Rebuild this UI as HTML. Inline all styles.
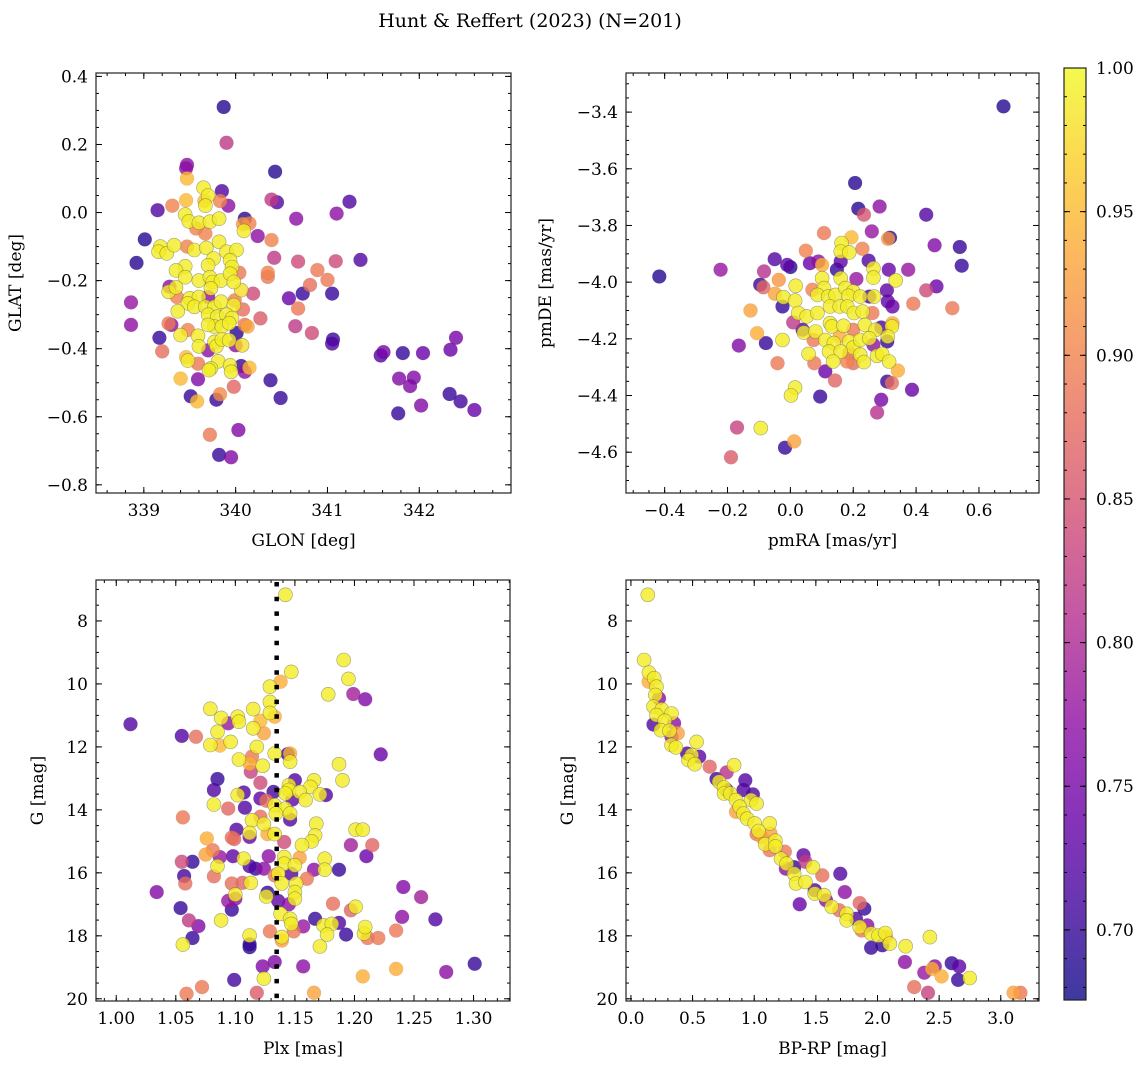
<!DOCTYPE html>
<html><head><meta charset="utf-8"><style>
html,body{margin:0;padding:0;background:#fff;}
svg{display:block;font-family:"DejaVu Serif","Liberation Serif",serif;}
</style></head><body>
<svg id="fig" width="1148" height="1068" viewBox="0 0 1148 1068" xmlns="http://www.w3.org/2000/svg">
<text x="530" y="27" font-size="19" text-anchor="middle" fill="#000">Hunt &amp; Reffert (2023) (N=201)</text>
</svg>
<script>
// ---- data: [x, y, membership probability] ----
const glonGlat=[[339.87,0.31,0.69],[339.90,0.205,0.82],[339.47,0.14,0.77],[339.46,0.13,0.77],[339.47,0.10,0.95],[340.43,0.12,0.69],[339.85,0.063,0.72],[339.65,0.073,0.99],[339.70,0.05,0.99],[339.46,0.036,0.95],[339.15,0.007,0.72],[339.31,0.02,0.90],[339.92,0.02,0.77],[339.83,0.034,0.90],[339.66,0.034,0.95],[339.67,0.02,0.99],[340.39,0.038,0.82],[340.45,0.03,0.72],[340.66,-0.018,0.77],[341.10,-0.003,0.77],[341.24,0.032,0.72],[339.45,-0.006,0.99],[339.49,-0.026,0.99],[339.6,-0.03,0.99],[339.72,-0.027,0.99],[339.82,-0.018,0.99],[339.57,-0.047,0.90],[339.67,-0.062,0.90],[340.10,-0.018,0.69],[340.08,-0.034,0.92],[340.15,-0.032,0.90],[340.09,-0.054,0.99],[340.24,-0.069,0.77],[340.39,-0.081,0.90],[339.01,-0.079,0.69],[338.92,-0.148,0.69],[339.18,-0.1,0.99],[339.16,-0.115,0.99],[339.25,-0.12,0.99],[339.33,-0.096,0.99],[339.47,-0.1,0.90],[339.55,-0.11,0.99],[339.68,-0.104,0.99],[339.82,-0.086,0.99],[339.9,-0.115,0.99],[340.01,-0.11,0.99],[339.94,-0.14,0.99],[339.96,-0.16,0.99],[339.76,-0.135,0.99],[339.7,-0.155,0.99],[339.45,-0.158,0.99],[339.35,-0.17,0.99],[339.45,-0.19,0.99],[340.42,-0.133,0.82],[340.68,-0.144,0.84],[341.09,-0.143,0.84],[341.36,-0.139,0.72],[340.35,-0.177,0.90],[340.35,-0.189,0.89],[340.89,-0.169,0.89],[341.0,-0.198,0.89],[340.04,-0.177,0.89],[339.6,-0.2,0.99],[339.72,-0.19,0.99],[339.75,-0.204,0.99],[339.84,-0.2,0.99],[339.94,-0.18,0.99],[339.98,-0.204,0.99],[340.06,-0.228,0.98],[340.19,-0.238,0.84],[339.28,-0.218,0.77],[339.27,-0.233,0.99],[339.35,-0.22,0.99],[339.36,-0.248,0.90],[339.50,-0.252,0.99],[339.6,-0.248,0.99],[339.7,-0.248,0.77],[339.73,-0.223,0.99],[339.48,-0.267,0.99],[339.55,-0.277,0.99],[339.67,-0.277,0.99],[339.77,-0.277,0.99],[339.84,-0.262,0.99],[339.98,-0.272,0.99],[339.99,-0.258,0.90],[340.08,-0.285,0.88],[339.37,-0.29,0.99],[340.58,-0.252,0.74],[340.73,-0.238,0.70],[340.81,-0.213,0.88],[340.68,-0.282,0.89],[341.05,-0.238,0.70],[340.27,-0.311,0.86],[339.7,-0.30,0.99],[339.8,-0.306,0.99],[339.9,-0.30,0.99],[339.96,-0.31,0.99],[339.77,-0.335,0.99],[339.85,-0.335,0.99],[339.93,-0.325,0.99],[339.7,-0.33,0.99],[339.27,-0.326,0.89],[339.3,-0.33,0.77],[338.86,-0.33,0.77],[338.86,-0.264,0.78],[340.13,-0.335,0.93],[340.1,-0.33,0.89],[340.01,-0.354,0.69],[340.65,-0.334,0.82],[340.83,-0.354,0.84],[341.06,-0.373,0.70],[341.05,-0.385,0.72],[339.17,-0.368,0.70],[339.2,-0.408,0.88],[339.4,-0.36,0.99],[339.48,-0.345,0.90],[339.59,-0.362,0.99],[339.6,-0.393,0.99],[339.7,-0.405,0.77],[339.77,-0.38,0.99],[339.79,-0.393,0.99],[339.85,-0.373,0.99],[339.93,-0.375,0.99],[340.0,-0.39,0.77],[340.07,-0.39,0.98],[341.58,-0.42,0.72],[341.61,-0.41,0.75],[341.82,-0.413,0.70],[342.04,-0.413,0.74],[342.34,-0.403,0.74],[342.4,-0.368,0.75],[339.46,-0.425,0.95],[339.48,-0.435,0.99],[339.59,-0.444,0.89],[339.81,-0.437,0.99],[339.94,-0.449,0.99],[339.95,-0.468,0.99],[339.73,-0.458,0.99],[339.71,-0.463,0.99],[340.06,-0.451,0.70],[340.1,-0.468,0.77],[340.15,-0.456,0.95],[340.38,-0.493,0.70],[339.4,-0.488,0.95],[339.59,-0.49,0.76],[341.78,-0.488,0.76],[341.94,-0.485,0.76],[341.9,-0.51,0.76],[339.98,-0.512,0.87],[339.51,-0.54,0.70],[339.58,-0.555,0.95],[339.79,-0.55,0.70],[339.83,-0.534,0.91],[340.49,-0.545,0.70],[341.77,-0.59,0.70],[342.02,-0.567,0.76],[342.33,-0.533,0.70],[342.45,-0.555,0.71],[342.6,-0.58,0.74],[339.72,-0.653,0.89],[340.03,-0.639,0.76],[339.82,-0.712,0.70],[339.95,-0.719,0.76]];
const pmraPmde=[[0.678,-3.38,0.69],[-0.417,-3.98,0.69],[-0.222,-3.956,0.78],[0.206,-3.65,0.69],[0.216,-3.741,0.69],[0.234,-3.762,0.85],[0.284,-3.733,0.77],[0.432,-3.762,0.72],[0.107,-3.827,0.89],[0.194,-3.842,0.95],[0.259,-3.821,0.78],[0.311,-3.847,0.92],[0.317,-3.843,0.70],[0.459,-3.87,0.76],[0.539,-3.876,0.70],[0.545,-3.942,0.70],[0.049,-3.889,0.90],[0.163,-3.862,0.99],[0.16,-3.892,0.99],[0.187,-3.895,0.99],[0.229,-3.882,0.90],[-0.05,-3.919,0.72],[-0.01,-3.939,0.73],[0,-3.947,0.69],[0.062,-3.933,0.74],[0.089,-3.927,0.77],[0.101,-3.939,0.94],[0.16,-3.927,0.73],[0.249,-3.924,0.72],[0.264,-3.951,0.99],[0.313,-3.956,0.74],[0.375,-3.956,0.78],[-0.084,-3.962,0.81],[-0.037,-3.992,0.92],[-0.096,-4.009,0.70],[-0.086,-4.018,0.87],[0.101,-3.986,0.99],[0.148,-3.956,0.70],[0.16,-3.986,0.99],[0.21,-3.989,0.78],[0.264,-3.984,0.99],[0.335,-3.994,0.99],[0.017,-4.013,0.99],[-0.049,-4.041,0.93],[-0.022,-4.053,0.99],[-0.025,-4.086,0.70],[0.07,-4.027,0.90],[0.107,-4.021,0.99],[0.086,-4.045,0.99],[0.12,-4.051,0.99],[0.144,-4.045,0.99],[0.175,-4.021,0.99],[0.2,-4.033,0.99],[0.185,-4.048,0.99],[0.222,-4.051,0.99],[0.251,-4.051,0.72],[0.266,-4.051,0.99],[0.307,-4.029,0.73],[0.31,-4.068,0.73],[0.325,-4.086,0.74],[0.432,-4.029,0.84],[0.465,-4.015,0.74],[0.391,-4.076,0.89],[0.515,-4.092,0.89],[0.015,-4.065,0.99],[0.025,-4.109,0.99],[0.052,-4.121,0.99],[0.086,-4.109,0.99],[0.126,-4.086,0.99],[0.157,-4.086,0.99],[0.181,-4.086,0.99],[0.202,-4.109,0.99],[0.23,-4.104,0.99],[0.261,-4.109,0.89],[-0.127,-4.1,0.93],[0.009,-4.142,0.82],[0.039,-4.168,0.72],[0.043,-4.178,0.99],[0.08,-4.174,0.99],[0.126,-4.145,0.99],[0.132,-4.156,0.99],[0.169,-4.154,0.99],[0.2,-4.168,0.89],[0.237,-4.151,0.99],[0.271,-4.168,0.99],[0.289,-4.16,0.72],[0.323,-4.156,0.99],[0.325,-4.145,0.94],[-0.106,-4.18,0.94],[-0.025,-4.204,0.99],[-0.078,-4.215,0.70],[-0.164,-4.224,0.76],[0.074,-4.204,0.89],[0.111,-4.204,0.99],[0.138,-4.215,0.99],[0.157,-4.192,0.94],[0.187,-4.209,0.99],[0.2,-4.231,0.99],[0.222,-4.204,0.99],[0.251,-4.198,0.99],[0.264,-4.221,0.77],[0.308,-4.209,0.70],[0.31,-4.192,0.99],[0.123,-4.245,0.99],[0.16,-4.245,0.99],[0.187,-4.251,0.89],[0.222,-4.256,0.99],[0.058,-4.253,0.99],[0.276,-4.26,0.99],[0.292,-4.253,0.99],[-0.041,-4.286,0.89],[0.076,-4.286,0.89],[0.136,-4.28,0.99],[0.18,-4.28,0.90],[0.2,-4.286,0.88],[0.234,-4.282,0.99],[0.314,-4.28,0.99],[0.342,-4.312,0.94],[0.111,-4.315,0.74],[0.142,-4.347,0.87],[0.308,-4.351,0.70],[0.323,-4.356,0.88],[0.387,-4.38,0.74],[0.015,-4.372,0.99],[0.002,-4.4,0.99],[0.095,-4.404,0.70],[0.289,-4.415,0.75],[0.276,-4.46,0.81],[-0.17,-4.513,0.83],[-0.094,-4.515,0.99],[0.012,-4.562,0.93],[-0.017,-4.584,0.70],[-0.189,-4.618,0.86]];
const plxG=[[1.142,7.17,0.99],[1.191,9.24,0.99],[1.195,9.84,0.99],[1.147,9.62,0.99],[1.138,9.93,0.94],[1.129,10.09,0.99],[1.178,10.33,0.99],[1.199,10.32,0.79],[1.209,10.49,0.76],[1.129,10.57,0.99],[1.079,10.79,0.99],[1.115,10.8,0.99],[1.129,10.92,0.99],[1.133,11.04,0.94],[1.088,11.08,0.99],[1.102,11.04,0.99],[1.103,11.2,0.99],[1.094,11.25,0.78],[1.121,11.17,0.95],[1.115,11.41,0.99],[1.012,11.28,0.72],[1.055,11.65,0.72],[1.067,11.68,0.88],[1.085,11.52,0.99],[1.124,11.57,0.93],[1.079,11.94,0.99],[1.087,11.96,0.95],[1.096,11.84,0.99],[1.118,12.0,0.99],[1.133,12.21,0.99],[1.144,12.23,0.70],[1.146,12.21,0.94],[1.146,12.47,0.99],[1.222,12.24,0.74],[1.103,12.4,0.99],[1.114,12.31,0.89],[1.112,12.53,0.94],[1.123,12.6,0.99],[1.113,12.79,0.83],[1.187,12.55,0.99],[1.19,13.06,0.99],[1.085,13.02,0.70],[1.082,13.37,0.72],[1.121,13.14,0.84],[1.15,13.06,0.72],[1.166,13.06,0.99],[1.163,13.27,0.99],[1.145,13.22,0.99],[1.145,13.37,0.99],[1.107,13.45,0.72],[1.102,13.53,0.99],[1.132,13.43,0.71],[1.121,13.64,0.73],[1.126,13.71,0.88],[1.142,13.48,0.99],[1.154,13.43,0.99],[1.159,13.69,0.99],[1.171,13.51,0.99],[1.176,13.53,0.72],[1.148,13.67,0.73],[1.082,13.83,0.99],[1.094,13.96,0.87],[1.108,13.93,0.72],[1.133,13.85,0.99],[1.142,13.96,0.99],[1.134,14.12,0.99],[1.146,14.12,0.99],[1.146,14.31,0.72],[1.056,14.24,0.89],[1.121,14.22,0.88],[1.114,14.33,0.99],[1.124,14.45,0.99],[1.168,14.44,0.99],[1.101,14.63,0.72],[1.112,14.73,0.99],[1.112,14.86,0.74],[1.127,14.77,0.94],[1.133,14.77,0.99],[1.076,14.91,0.94],[1.097,14.88,0.88],[1.099,14.93,0.87],[1.141,15.02,0.84],[1.167,14.81,0.99],[1.164,15.0,0.99],[1.156,15.12,0.99],[1.201,14.63,0.99],[1.207,14.63,0.99],[1.197,15.12,0.79],[1.215,15.12,0.87],[1.075,15.42,0.93],[1.081,15.28,0.89],[1.087,15.5,0.78],[1.098,15.47,0.73],[1.107,15.55,0.99],[1.128,15.47,0.77],[1.141,15.5,0.99],[1.154,15.52,0.93],[1.175,15.55,0.99],[1.21,15.47,0.74],[1.055,15.65,0.84],[1.064,15.65,0.70],[1.085,15.79,0.99],[1.112,15.79,0.72],[1.117,15.87,0.70],[1.124,15.87,0.77],[1.141,15.71,0.99],[1.15,15.76,0.99],[1.166,15.9,0.77],[1.175,15.9,0.99],[1.187,15.9,0.70],[1.057,16.1,0.71],[1.082,16.11,0.88],[1.113,16.32,0.99],[1.133,16.08,0.89],[1.136,16.03,0.99],[1.147,16.03,0.72],[1.16,16.19,0.89],[1.139,16.34,0.99],[1.151,16.34,0.99],[1.058,16.34,0.88],[1.097,16.34,0.88],[1.106,16.32,0.87],[1.034,16.61,0.76],[1.1,16.69,0.99],[1.126,16.75,0.99],[1.127,16.63,0.70],[1.15,16.61,0.99],[1.15,16.82,0.99],[1.136,16.89,0.73],[1.145,17.0,0.77],[1.241,16.45,0.76],[1.256,16.77,0.79],[1.182,16.98,0.88],[1.094,16.89,0.78],[1.1,16.82,0.77],[1.054,17.12,0.70],[1.097,17.17,0.70],[1.201,17.08,0.99],[1.197,17.19,0.87],[1.061,17.51,0.82],[1.069,17.69,0.76],[1.088,17.51,0.99],[1.138,17.3,0.99],[1.146,17.46,0.99],[1.147,17.62,0.99],[1.157,17.7,0.78],[1.167,17.46,0.70],[1.174,17.67,0.99],[1.181,17.62,0.99],[1.187,17.59,0.72],[1.24,17.4,0.77],[1.268,17.48,0.72],[1.064,18.07,0.70],[1.112,17.99,0.99],[1.112,18.36,0.69],[1.112,18.27,0.70],[1.129,17.86,0.89],[1.139,18.04,0.99],[1.139,18.15,0.93],[1.149,17.86,0.89],[1.056,18.28,0.99],[1.171,18.34,0.99],[1.177,17.96,0.99],[1.193,17.96,0.70],[1.208,17.93,0.99],[1.209,17.72,0.99],[1.211,18.07,0.89],[1.22,18.07,0.89],[1.235,17.83,0.89],[1.301,18.89,0.70],[1.277,19.15,0.77],[1.235,19.05,0.94],[1.207,19.29,0.94],[1.123,18.97,0.76],[1.133,18.83,0.76],[1.157,18.97,0.77],[1.124,19.36,0.99],[1.099,19.4,0.71],[1.072,19.63,0.89],[1.059,19.84,0.89],[1.118,19.81,0.86],[1.166,19.81,0.93]];
const colorG=[[0.137,7.17,0.99],[0.107,9.24,0.99],[0.146,9.64,0.99],[0.143,9.93,0.94],[0.189,9.82,0.99],[0.207,10.09,0.99],[0.228,10.46,0.77],[0.198,10.35,0.99],[0.183,10.72,0.99],[0.25,10.81,0.99],[0.329,10.94,0.99],[0.207,10.99,0.99],[0.274,11.17,0.99],[0.183,11.29,0.72],[0.35,11.25,0.77],[0.243,11.47,0.99],[0.313,11.49,0.99],[0.38,11.57,0.93],[0.329,11.68,0.77],[0.329,11.94,0.99],[0.365,12.02,0.99],[0.533,11.84,0.99],[0.456,12.21,0.72],[0.554,12.31,0.73],[0.493,12.26,0.99],[0.466,12.42,0.99],[0.517,12.55,0.99],[0.639,12.63,0.87],[0.837,12.58,0.99],[0.776,12.81,0.81],[0.694,13.02,0.71],[0.928,13.06,0.72],[0.715,13.11,0.99],[0.755,13.29,0.99],[0.776,13.37,0.72],[0.755,13.48,0.99],[0.806,13.48,0.99],[0.913,13.37,0.72],[0.989,13.51,0.72],[0.852,13.69,0.99],[0.974,13.69,0.99],[1.019,13.8,0.99],[0.882,13.9,0.99],[0.913,14.12,0.99],[0.852,14.06,0.93],[0.943,14.28,0.99],[1.004,14.43,0.99],[1.126,14.43,0.99],[1.035,14.67,0.99],[1.019,14.77,0.89],[1.065,14.88,0.93],[1.132,14.75,0.93],[1.089,15.09,0.99],[1.172,14.98,0.99],[1.172,15.16,0.99],[1.126,15.28,0.89],[1.4,15.44,0.73],[1.415,15.65,0.82],[1.248,15.33,0.89],[1.217,15.55,0.99],[1.263,15.71,0.99],[1.324,15.82,0.70],[1.257,15.87,0.77],[1.476,15.82,0.99],[1.552,16.08,0.88],[1.698,16.03,0.72],[1.324,16.03,0.99],[1.339,16.34,0.99],[1.415,16.29,0.99],[1.491,16.55,0.72],[1.735,16.61,0.77],[1.369,17.0,0.74],[1.491,16.66,0.99],[1.567,16.71,0.99],[1.582,16.87,0.77],[1.628,17.08,0.99],[1.689,17.19,0.88],[1.856,16.96,0.87],[1.893,17.14,0.70],[1.75,17.3,0.99],[1.75,17.51,0.99],[1.826,17.46,0.72],[1.856,17.72,0.99],[1.917,17.67,0.77],[1.872,17.83,0.89],[1.948,17.93,0.99],[2.008,17.99,0.99],[2.069,18.04,0.93],[2.063,17.91,0.99],[2.1,18.25,0.99],[2.039,18.3,0.70],[1.948,18.38,0.70],[2.228,18.33,0.99],[2.425,18.04,0.99],[2.222,18.83,0.77],[2.38,19.17,0.78],[2.465,18.97,0.77],[2.444,19.05,0.94],[2.52,19.29,0.94],[2.602,18.87,0.70],[2.663,18.97,0.73],[2.654,19.4,0.70],[2.748,19.34,0.99],[2.298,19.63,0.88],[2.41,19.81,0.83],[3.104,19.81,0.93],[3.159,19.81,0.89]];
const cbTicks=[0.70,0.75,0.80,0.85,0.90,0.95,1.00];
const vmin=0.6756, vmax=1.0;
const plxRef=[1.1347];

const NS='http://www.w3.org/2000/svg';
const svg=document.getElementById('fig');
const plasma=[[13,8,135],[65,4,157],[106,0,168],[143,13,164],[177,42,144],[204,71,120],[225,100,98],[242,132,75],[252,166,54],[252,206,37],[240,249,33]];
function cmap(t){t=Math.max(0,Math.min(1,t));const f=t*10,i=Math.min(9,Math.floor(f)),r=f-i;const a=plasma[i],b=plasma[i+1];return 'rgb('+a.map((v,k)=>Math.round(v+(b[k]-v)*r)).join(',')+')';}
function el(tag,attrs,parent){const e=document.createElementNS(NS,tag);for(const k in attrs)e.setAttribute(k,attrs[k]);(parent||svg).appendChild(e);return e;}
function fmt(v,d){const s=Math.abs(v).toFixed(d);return (v<-1e-9?'\u2212':'')+s;}

function panel(cfg){
  const g=el('g',{});
  
  
  const {L,R,T,B}=cfg;
  const sx=v=>L+(v-cfg.x0)/(cfg.x1-cfg.x0)*(R-L);
  const sy=cfg.invert? (v=>T+(v-cfg.y0)/(cfg.y1-cfg.y0)*(B-T)) : (v=>B-(v-cfg.y0)/(cfg.y1-cfg.y0)*(B-T));
  const pts=cfg.data.slice().sort((a,b)=>a[2]-b[2]);
  const pg=el('g',{},g);
  
  
  pts.forEach(p=>{
    const c=el('circle',{cx:sx(p[0]).toFixed(1),cy:sy(p[1]).toFixed(1),r:7,fill:cmap((p[2]-vmin)/(vmax-vmin)),'fill-opacity':0.8,stroke:'#555','stroke-opacity':p[2]>0.97?0.55:0.15,'stroke-width':0.6},pg);
    
    
  });
  if(cfg.vline){cfg.vline.forEach(v=>{const l=el('line',{x1:sx(v),x2:sx(v),y1:T+2,y2:B,stroke:'#000','stroke-width':4.5,'stroke-dasharray':'4.5 10.2'},g);
    
    });}
  const tg=el('g',{stroke:'#000','stroke-width':1},g);
  const lo=Math.min(cfg.x0,cfg.x1),hi=Math.max(cfg.x0,cfg.x1);
  function range(a,b,s){const out=[];const st=Math.ceil(a/s-1e-6);for(let k=st;k*s<=b+1e-9;k++)out.push(+(k*s).toFixed(6));return out;}
  range(lo,hi,cfg.xminor).forEach(v=>{const x=sx(v);el('line',{x1:x,x2:x,y1:B,y2:B-3},tg);el('line',{x1:x,x2:x,y1:T,y2:T+3},tg);});
  range(lo,hi,cfg.xmajor).forEach(v=>{const x=sx(v);el('line',{x1:x,x2:x,y1:B,y2:B-6},tg);el('line',{x1:x,x2:x,y1:T,y2:T+6},tg);
    const t=el('text',{x:x,y:B+23,'font-size':17,'text-anchor':'middle',stroke:'none',fill:'#000'},g);t.textContent=fmt(v,cfg.xd);
    
    });
  const ylo=Math.min(cfg.y0,cfg.y1),yhi=Math.max(cfg.y0,cfg.y1);
  range(ylo,yhi,cfg.yminor).forEach(v=>{const y=sy(v);el('line',{x1:L,x2:L+3,y1:y,y2:y},tg);el('line',{x1:R,x2:R-3,y1:y,y2:y},tg);});
  range(ylo,yhi,cfg.ymajor).forEach(v=>{const y=sy(v);el('line',{x1:L,x2:L+6,y1:y,y2:y},tg);el('line',{x1:R,x2:R-6,y1:y,y2:y},tg);
    const t=el('text',{x:L-8,y:y+6,'font-size':17,'text-anchor':'end',fill:'#000'},g);t.textContent=fmt(v,cfg.yd);
    
    });
  el('rect',{x:L,y:T,width:R-L,height:B-T,fill:'none',stroke:'#222','stroke-width':1.2},g);
  const xl=el('text',{x:(L+R)/2,y:B+53,'font-size':17,'text-anchor':'middle',fill:'#000'},g);xl.textContent=cfg.xlabel;
  
  
  const yl=el('text',{x:0,y:0,'font-size':17,'text-anchor':'middle',fill:'#000',transform:'translate('+(cfg.ylx+6)+','+((T+B)/2)+') rotate(-90)'},g);yl.textContent=cfg.ylabel;
  
  
}

panel({name:'glon-glat-panel',data:glonGlat,L:96,R:511,T:73,B:493,x0:338.479,x1:342.999,y0:-0.824,y1:0.41,xmajor:1,xminor:0.2,ymajor:0.2,yminor:0.05,xd:0,yd:1,xlabel:'GLON [deg]',ylabel:'GLAT [deg]',ylx:15});
panel({name:'proper-motion-panel',data:pmraPmde,L:626,R:1039,T:73,B:493,x0:-0.523,x1:0.791,y0:-4.744,y1:-3.262,xmajor:0.2,xminor:0.05,ymajor:0.2,yminor:0.05,xd:1,yd:1,xlabel:'pmRA [mas/yr]',ylabel:'pmDE [mas/yr]',ylx:545});
panel({name:'parallax-magnitude-panel',data:plxG,L:96,R:510,T:580,B:1001,x0:0.983,x1:1.3306,y0:6.70,y1:20.07,invert:true,xmajor:0.05,xminor:0.01,ymajor:2,yminor:0.5,xd:2,yd:0,xlabel:'Plx [mas]',ylabel:'G [mag]',ylx:37,vline:plxRef});
panel({name:'color-magnitude-panel',data:colorG,L:626,R:1039,T:580,B:1001,x0:-0.04,x1:3.31,y0:6.70,y1:20.07,invert:true,xmajor:0.5,xminor:0.1,ymajor:2,yminor:0.5,xd:1,yd:0,xlabel:'BP-RP [mag]',ylabel:'G [mag]',ylx:567});

(function(){
  const X0=1064,X1=1086,T=68,B=1000;
  const g=el('g',{});
  
  
  const defs=el('defs',{},g);
  const lg=el('linearGradient',{id:'cbg',x1:0,y1:1,x2:0,y2:0},defs);
  for(let i=0;i<=20;i++){el('stop',{offset:(i/20),'stop-color':cmap(i/20)},lg);}
  el('rect',{x:X0,y:T,width:X1-X0,height:B-T,fill:'url(#cbg)','fill-opacity':0.8},g);
  const sy=v=>B-(v-vmin)/(vmax-vmin)*(B-T);
  for(let v=0.68;v<=1.0001;v+=0.01){const y=sy(v);el('line',{x1:X1,x2:X1-3,y1:y,y2:y,stroke:'#000'},g);el('line',{x1:X0,x2:X0+3,y1:y,y2:y,stroke:'#000'},g);}
  cbTicks.forEach(v=>{const y=sy(v);el('line',{x1:X1,x2:X1-6,y1:y,y2:y,stroke:'#000'},g);el('line',{x1:X0,x2:X0+6,y1:y,y2:y,stroke:'#000'},g);
    const t=el('text',{x:X1+10,y:y+6,'font-size':17,fill:'#000'},g);t.textContent=v.toFixed(2);
    
    });
  el('rect',{x:X0,y:T,width:X1-X0,height:B-T,fill:'none',stroke:'#222','stroke-width':1.2},g);
})();
</script>
</body></html>
